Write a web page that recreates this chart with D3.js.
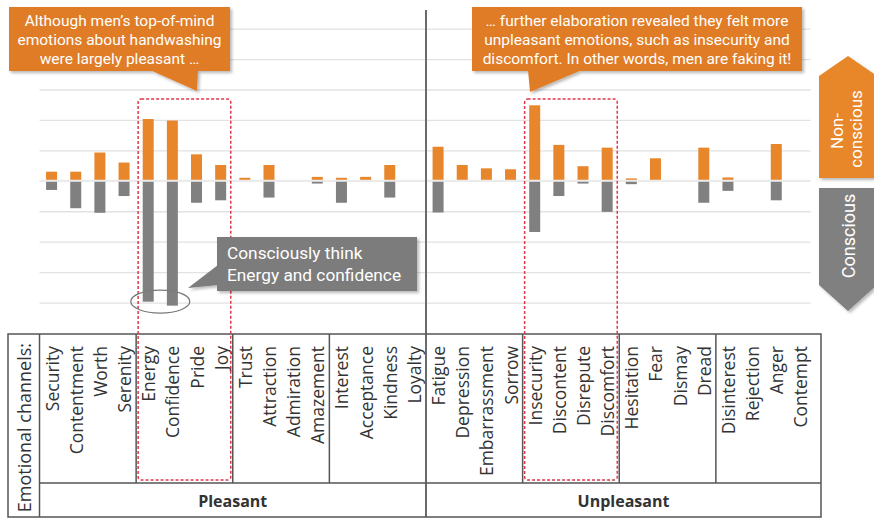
<!DOCTYPE html>
<html>
<head>
<meta charset="utf-8">
<script src="https://cdn.jsdelivr.net/npm/d3@7"></script>
<style>
  body { margin: 0; background: #fff; }
  svg { display: block; }
</style>
</head>
<body>
<div id="chart"></div>
<script>
// emotional channels, left to right
const categories = [
  "Security", "Contentment", "Worth", "Serenity",
  "Energy", "Confidence", "Pride", "Joy",
  "Trust", "Attraction", "Admiration", "Amazement",
  "Interest", "Acceptance", "Kindness", "Loyalty",
  "Fatigue", "Depression", "Embarrassment", "Sorrow",
  "Insecurity", "Discontent", "Disrepute", "Discomfort",
  "Hesitation", "Fear", "Dismay", "Dread",
  "Disinterest", "Rejection", "Anger", "Contempt"
];
// bar heights, in gridline units
const nonConscious = [
  0.3, 0.3, 0.93, 0.6, 2.03, 1.98, 0.87, 0.52,
  0.1, 0.52, 0, 0.13, 0.1, 0.13, 0.52, 0,
  1.12, 0.52, 0.41, 0.38, 2.48, 1.18, 0.48, 1.09,
  0.08, 0.74, 0, 1.09, 0.11, 0, 1.21, 0
];
const conscious = [
  0.3, 0.9, 1.05, 0.5, 3.97, 4.1, 0.72, 0.64,
  0, 0.55, 0, 0.09, 0.72, 0, 0.55, 0,
  1.04, 0, 0, 0, 1.68, 0.5, 0.09, 1.02,
  0.11, 0, 0, 0.72, 0.33, 0, 0.64, 0
];
const groups = ["Pleasant", "Unpleasant"];
const gridTicks = [-4, -3, -2, -1, 0, 1, 2, 3, 4, 5];

const W = 874, H = 518;
const orange = "#e8862b", grey = "#808080";
const tableTop = 334, tableMid = 483, tableBottom = 517, tableLeft = 8, tableRight = 821;

const svg = d3.select("#chart").append("svg")
    .attr("width", W)
    .attr("height", H);

const defs = svg.append("defs");
defs.append("filter").attr("id", "shadow")
    .attr("x", "-10%").attr("y", "-10%").attr("width", "130%").attr("height", "140%")
  .append("feDropShadow")
    .attr("dx", 2).attr("dy", 2).attr("stdDeviation", 1.5)
    .attr("flood-color", "#000").attr("flood-opacity", 0.28);

const x = d3.scaleBand()
    .domain(categories)
    .range([39.5, 812.5])
    .padding(0);
const bw = x.bandwidth(), barW = 11;

const y = d3.scaleLinear()
    .domain([-4, 5])
    .range([302.6, 28.6]);

// gridlines
svg.append("g")
    .attr("transform", "translate(" + x.range()[0] + ",0)")
    .call(d3.axisLeft(y).tickValues(gridTicks).tickSize(-(x.range()[1] - x.range()[0] - 2)).tickFormat(""))
    .call(g => g.select(".domain").remove())
    .call(g => g.selectAll("line").attr("stroke", "#e2e2e2").attr("stroke-width", 1.3));

// bars
const rows = categories.map((c, i) => ({ cat: c, up: nonConscious[i], down: conscious[i] }));
svg.append("g").selectAll("rect")
    .data(rows.filter(d => d.up > 0))
    .join("rect")
    .attr("x", d => x(d.cat) + (bw - barW) / 2)
    .attr("y", d => y(d.up))
    .attr("width", barW)
    .attr("height", d => y(0) - y(d.up))
    .attr("fill", orange);
svg.append("g").selectAll("rect")
    .data(rows.filter(d => d.down > 0))
    .join("rect")
    .attr("x", d => x(d.cat) + (bw - barW) / 2)
    .attr("y", y(0))
    .attr("width", barW)
    .attr("height", d => y(-d.down) - y(0))
    .attr("fill", grey);

// zero line over the bars
svg.append("line")
    .attr("x1", x.range()[0]).attr("x2", x.range()[1] - 2)
    .attr("y1", y(0)).attr("y2", y(0))
    .attr("stroke", "#ececec").attr("stroke-width", 2);

// center separator
const mid = x(categories[16]);
svg.append("line")
    .attr("x1", mid).attr("x2", mid)
    .attr("y1", 10).attr("y2", tableBottom)
    .attr("stroke", "#6b6b6b").attr("stroke-width", 2);

// table
const tbl = svg.append("g").attr("stroke", "#555").attr("stroke-width", 1.5).attr("fill", "none");
tbl.append("rect")
    .attr("x", tableLeft).attr("y", tableTop)
    .attr("width", tableRight - tableLeft).attr("height", tableBottom - tableTop);
tbl.append("line")
    .attr("x1", x.range()[0]).attr("x2", tableRight)
    .attr("y1", tableMid).attr("y2", tableMid);
tbl.append("line")
    .attr("x1", x.range()[0]).attr("x2", x.range()[0])
    .attr("y1", tableTop).attr("y2", tableBottom);
[4, 8, 12, 20, 24, 28].forEach(i => {
  tbl.append("line")
      .attr("x1", x(categories[i])).attr("x2", x(categories[i]))
      .attr("y1", tableTop).attr("y2", tableMid);
});

// category labels
svg.append("g").selectAll("text")
    .data(categories)
    .join("text")
    .attr("transform", d => "translate(" + (x(d) + bw / 2 + 7) + ",346) rotate(-90)")
    .attr("text-anchor", "end")
    .attr("font-family", "Open Sans")
    .attr("font-size", 17.5)
    .attr("fill", "#333")
    .text(d => d);

svg.append("text")
    .attr("transform", "translate(30.5,343) rotate(-90)")
    .attr("text-anchor", "end")
    .attr("font-family", "Open Sans")
    .attr("font-size", 18)
    .attr("fill", "#333")
    .text("Emotional channels:");

svg.append("g").selectAll("text")
    .data(groups)
    .join("text")
    .attr("x", (d, i) => i === 0 ? (x.range()[0] + mid) / 2 : (mid + tableRight) / 2)
    .attr("y", 507)
    .attr("text-anchor", "middle")
    .attr("font-family", "Open Sans")
    .attr("font-weight", "bold")
    .attr("font-size", 16)
    .attr("fill", "#333")
    .text(d => d);

// red dashed highlight boxes
[["Energy", "Joy"], ["Insecurity", "Discomfort"]].forEach(([a, b]) => {
  svg.append("rect")
      .attr("x", x(a) + 2)
      .attr("y", 99)
      .attr("width", x(b) + bw - x(a) - 4)
      .attr("height", 381)
      .attr("rx", 3)
      .attr("fill", "none")
      .attr("stroke", "#e0394a")
      .attr("stroke-width", 1.5)
      .attr("stroke-dasharray", "3,2");
});

// circle round the tall conscious bars
svg.append("ellipse")
    .attr("cx", (x("Energy") + x("Confidence") + bw) / 2)
    .attr("cy", y(-4) - 1)
    .attr("rx", 29.5).attr("ry", 11.5)
    .attr("fill", "none")
    .attr("stroke", "#7a7a7a")
    .attr("stroke-width", 1.3);

// callouts
function callout(box, tail, fill, lines, tx, anchor, size, y0, dy) {
  const g = svg.append("g").attr("filter", "url(#shadow)");
  g.append("rect")
      .attr("x", box[0]).attr("y", box[1]).attr("width", box[2]).attr("height", box[3])
      .attr("fill", fill);
  g.append("polygon").attr("points", tail.map(p => p.join(",")).join(" ")).attr("fill", fill);
  svg.append("g").selectAll("text")
      .data(lines)
      .join("text")
      .attr("x", tx)
      .attr("y", (d, i) => y0 + i * dy)
      .attr("text-anchor", anchor)
      .attr("font-family", "Roboto")
      .attr("font-size", size)
      .attr("fill", "#fff")
      .text(d => d);
}

callout([9, 7, 221, 64], [[150, 70], [198, 70], [197, 91]], "#e07c26",
  ["Although men\u2019s top-of-mind", "emotions about handwashing", "were largely pleasant \u2026"],
  119.5, "middle", 15.5, 26, 19);

callout([472, 7, 330, 64], [[528, 70], [582, 70], [530, 92]], "#e07c26",
  ["\u2026 further elaboration revealed they felt more", "unpleasant emotions, such as insecurity and", "discomfort. In other words, men are faking it!"],
  637, "middle", 15.5, 26, 19);

callout([217, 237, 200, 54], [[218, 265], [218, 285], [188, 288]], "#7b7b7b",
  ["Consciously think", "Energy and confidence"],
  227, "start", 17.3, 259, 21.5);

// side arrows
const arrows = svg.append("g").attr("filter", "url(#shadow)");
arrows.append("polygon")
    .attr("points", "819,76 848,56 877,76 877,178 819,178")
    .attr("fill", orange);
arrows.append("polygon")
    .attr("points", "819,188 877,188 877,285 848,311 819,285")
    .attr("fill", grey);

svg.append("text")
    .attr("transform", "translate(843,131) rotate(-90)")
    .attr("text-anchor", "middle")
    .attr("font-family", "Roboto").attr("font-size", 17).attr("fill", "#fff")
    .text("Non-");
svg.append("text")
    .attr("transform", "translate(862,129) rotate(-90)")
    .attr("text-anchor", "middle")
    .attr("font-family", "Roboto").attr("font-size", 17).attr("fill", "#fff")
    .text("conscious");
svg.append("text")
    .attr("transform", "translate(855,236) rotate(-90)")
    .attr("text-anchor", "middle")
    .attr("font-family", "Roboto").attr("font-size", 18).attr("fill", "#fff")
    .text("Conscious");
</script>
</body>
</html>
